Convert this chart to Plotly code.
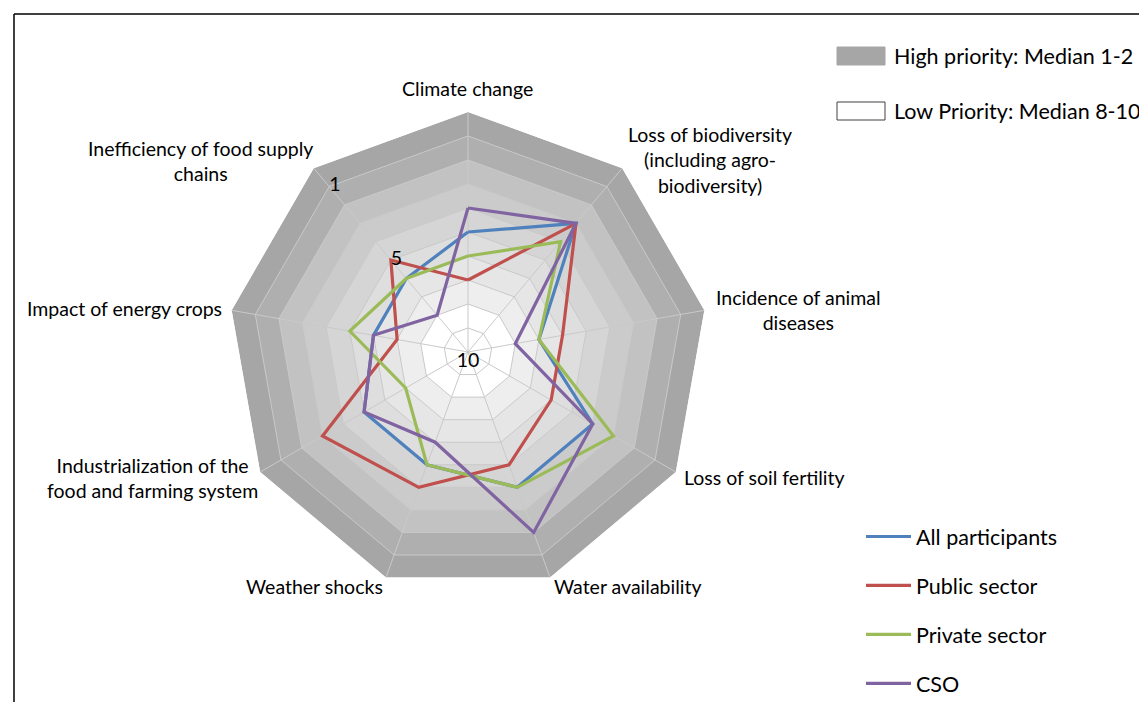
import plotly.graph_objects as go

# ---- data -------------------------------------------------------------
categories = [
    "Climate change",
    "Loss of biodiversity<br>(including agro-<br>biodiversity)",
    "Incidence of animal<br>diseases",
    "Loss of soil fertility",
    "Water availability",
    "Weather shocks",
    "Industrialization of the<br>food and farming system",
    "Impact of energy crops",
    "Inefficiency of food supply<br>chains",
]
series_names = ["All participants", "Public sector", "Private sector", "CSO"]
all_participants = [5, 3, 7, 4, 4, 5, 5, 6, 6]
public_sector = [7, 3, 6, 6, 5, 4, 3, 7, 5]
private_sector = [6, 4, 7, 3, 4, 5, 7, 5, 6]
cso = [4, 3, 8, 4, 2, 6, 5, 6, 8]
series_values = [all_participants, public_sector, private_sector, cso]
series_colors = ["#4f81bd", "#c0504d", "#9bbb59", "#8064a2"]

# background priority bands (rank at the band's outer edge)
band_levels = [0, 1, 2, 3, 4, 5, 6, 7, 8]
band_colors = ["#a6a6a6", "#afafaf", "#c2c2c2", "#cbcbcb", "#d5d5d5",
               "#dedede", "#e6e6e6", "#eeeeee", "#ffffff"]
grid_levels = [1, 2, 3, 4, 5, 6, 7, 8, 9]
radial_ticks = [1, 5, 10]
priority_legend = ["High priority: Median 1-2", "Low Priority: Median 8-10"]
priority_colors = ["#a6a6a6", "#ffffff"]

FONT = "Lato"
OFF = 8                      # browser body margin
W, H = 1147 - OFF, 702 - OFF


def px(x, y):
    """page pixel -> paper coordinates"""
    return (x - OFF) / W, 1 - (y - OFF) / H


fig = go.Figure()
closed_cats = categories + [categories[0]]
n = len(categories)

for lvl, col in zip(band_levels, band_colors):
    fig.add_trace(go.Scatterpolar(
        r=[lvl] * (n + 1), theta=closed_cats, mode="lines", fill="toself",
        fillcolor=col, line=dict(width=0, color=col), hoverinfo="skip",
        showlegend=False))

GRID = "#c9c9c9"
for lvl in grid_levels:
    fig.add_trace(go.Scatterpolar(
        r=[lvl] * (n + 1), theta=closed_cats, mode="lines",
        line=dict(width=1, color=GRID), hoverinfo="skip", showlegend=False))
for c in categories:
    fig.add_trace(go.Scatterpolar(
        r=[10, 0], theta=[c, c], mode="lines",
        line=dict(width=1, color=GRID), hoverinfo="skip", showlegend=False))

# data series
for name, vals, col in zip(series_names, series_values, series_colors):
    fig.add_trace(go.Scatterpolar(
        r=vals + [vals[0]], theta=closed_cats, mode="lines",
        line=dict(color=col, width=3.2), name=name, legendgroup=name))

# radial tick labels along the last spoke
fig.add_trace(go.Scatterpolar(
    r=radial_ticks, theta=[categories[-1]] * len(radial_ticks),
    mode="text", text=[str(t) for t in radial_ticks],
    textposition=["middle right", "middle right", "bottom center"],
    textfont=dict(size=19.5, family=FONT, color="#000000"),
    hoverinfo="skip", showlegend=False, cliponaxis=False))

# category labels
label_pos = [(467, 88), (710, 160), (798, 310), (764, 477), (628, 586),
             (314, 586), (152, 478), (124, 309), (200, 161)]
annotations = []
for txt, (x, y) in zip(categories, label_pos):
    ax, ay = px(x, y)
    annotations.append(dict(x=ax, y=ay, xref="paper", yref="paper",
                            text=txt, showarrow=False, align="center",
                            xanchor="center", yanchor="middle",
                            font=dict(size=19.5, family=FONT, color="#000")))

# priority legend (box + text)
shapes = []
for i, (txt, col) in enumerate(zip(priority_legend, priority_colors)):
    top = 47 + i * 55
    x0, y0 = px(837, top)
    x1, y1 = px(885, top + 18)
    shapes.append(dict(type="rect", xref="paper", yref="paper",
                       x0=x0, x1=x1, y0=y1, y1=y0, fillcolor=col,
                       line=dict(color="#a6a6a6" if i == 0 else "#404040",
                                 width=1)))
    tx, ty = px(892, top + 9)
    annotations.append(dict(x=tx, y=ty, xref="paper", yref="paper",
                            text=txt, showarrow=False, xanchor="left",
                            yanchor="middle",
                            font=dict(size=21.5, family=FONT, color="#000")))

# frame lines
fx, fy = px(14, 14)
shapes += [
    dict(type="line", xref="paper", yref="paper", x0=fx, x1=1.0, y0=fy,
         y1=fy, line=dict(color="black", width=1.5)),
    dict(type="line", xref="paper", yref="paper", x0=fx, x1=fx, y0=fy,
         y1=0, line=dict(color="black", width=1.5)),
]

cx, cy, R = 468, 352, 240
dx0, dy0 = px(cx - R, cy + R)
dx1, dy1 = px(cx + R, cy - R)
lx, ly = px(861, 516)

fig.update_layout(
    width=W, height=H,
    paper_bgcolor="white", plot_bgcolor="white",
    margin=dict(l=0, r=0, t=0, b=0, autoexpand=False),
    font=dict(family=FONT, color="#000000"),
    polar=dict(
        domain=dict(x=[dx0, dx1], y=[dy0, dy1]),
        bgcolor="white",
        gridshape="linear",
        angularaxis=dict(rotation=90, direction="clockwise",
                         showgrid=False, showline=False, ticks="",
                         showticklabels=False),
        radialaxis=dict(range=[10, 0], showgrid=False, showline=False,
                        ticks="", showticklabels=False),
    ),
    legend=dict(x=lx, y=ly, xanchor="left", yanchor="top",
                font=dict(size=21.5, family=FONT), bgcolor="rgba(0,0,0,0)",
                tracegroupgap=18, itemwidth=45),
    annotations=annotations,
    shapes=shapes,
)

fig.write_html("out.html")
